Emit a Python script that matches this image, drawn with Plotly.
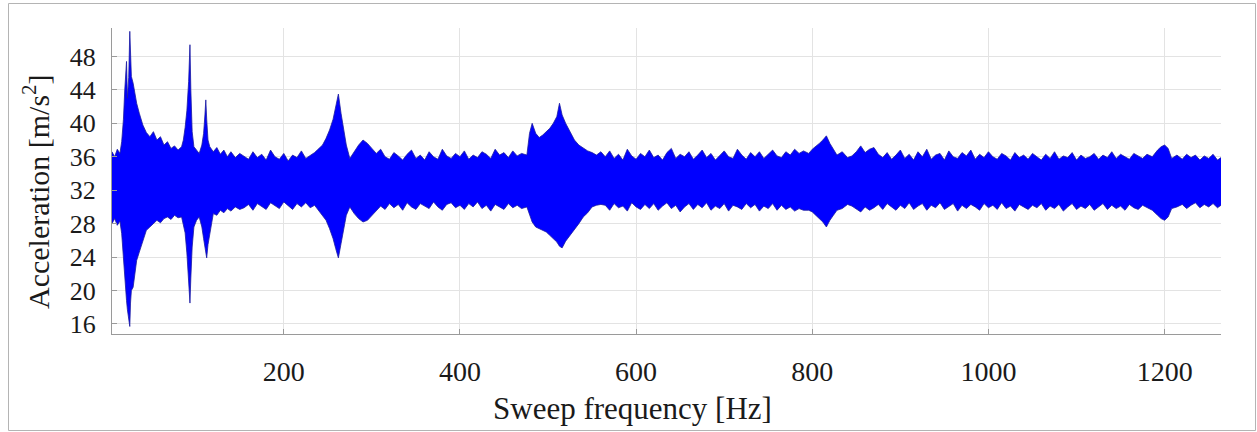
import plotly.graph_objects as go

# ---- envelope of the acceleration signal ----
# segment A: 5-150 Hz (start-up burst and the two early resonances)
freq_a = [5, 8, 11, 14, 16, 18, 19.5, 21, 21.5, 22.5, 24, 25.2, 26, 27, 29, 31, 33, 36, 40, 44,
          48, 52, 56, 60, 64, 68, 72, 76, 80, 84, 86, 88, 90, 92, 93.5, 94.5, 96, 98, 101, 104,
          107, 109, 110.5, 111.5, 112.5, 114, 116, 120, 124, 128, 132, 136, 140, 145, 150]
upper_a = [36.6, 36.0, 36.9, 36.4, 37.8, 40.5, 44.0, 46.0, 47.4, 43.0, 45.5, 51.0, 47.0, 45.6, 44.8,
           43.6, 42.4, 41.2, 39.8, 38.9, 38.4, 39.0, 38.0, 38.4, 37.4, 37.8, 37.0, 37.3, 36.8, 37.2,
           38.0, 39.5, 41.5, 45.0, 49.4, 44.0, 39.0, 37.2, 36.8, 36.4, 37.4, 38.8, 41.0, 42.8, 40.5,
           38.0, 37.2, 36.6, 37.1, 36.3, 36.8, 36.0, 36.6, 35.9, 36.4]
lower_a = [28.0, 28.6, 27.8, 28.3, 26.8, 23.5, 20.9, 19.5, 18.8, 17.7, 16.8, 15.7, 18.5, 20.0, 20.4,
           22.0, 23.6, 24.6, 25.8, 27.2, 27.6, 28.0, 28.4, 28.1, 28.6, 28.8, 28.5, 29.0, 28.7, 28.8,
           27.8, 26.9, 24.5, 21.0, 18.5, 21.5, 25.2, 27.6, 28.4, 28.8, 27.6, 26.2, 25.2, 24.2, 23.9,
           25.5, 26.9, 29.2, 29.0, 29.6, 29.3, 29.8, 29.5, 30.0, 29.7]

# segment B: 155-470 Hz (resonance near 262 Hz, bump near 290 Hz)
freq_b = [155, 160, 165, 170, 175, 180, 185, 190, 195, 200, 205, 210, 215, 220, 225, 230, 235,
          238, 244, 248, 252, 256, 259, 262, 265, 268, 271, 275,
          280, 285, 290, 295, 300, 305, 310, 315, 320, 325, 330, 335, 340, 345, 350, 355, 360,
          365, 370, 375, 380, 385, 390, 395, 400, 405, 410, 415, 420, 425, 430, 435, 440, 445,
          450, 455, 460, 465, 470]
upper_b = [36.1, 35.7, 36.6, 35.9, 36.3, 35.6, 36.8, 36.0, 35.7, 36.4, 35.5, 36.2, 35.9, 36.7, 35.8,
           36.1, 36.5,
           36.8, 37.4, 38.2, 39.2, 40.5, 42.0, 43.5, 41.2, 39.0, 37.4, 35.8,
           36.6, 37.4, 38.0, 37.6, 37.0, 36.4, 36.9, 36.0, 35.7, 36.5, 36.1, 35.6, 36.3, 36.8, 35.8,
           36.2, 35.6, 36.6, 36.0, 35.7, 36.9, 36.1, 35.8, 36.4, 36.0, 36.7, 35.7, 36.2, 35.9, 36.6,
           36.3, 35.8, 36.9, 36.2, 36.5, 35.9, 36.7, 36.1, 36.4]
lower_b = [29.9, 30.3, 29.6, 30.4, 30.0, 29.7, 30.5, 30.1, 29.8, 30.6, 30.2, 29.7, 30.4, 30.0, 30.5,
           29.9, 30.2,
           29.8, 29.0, 28.4, 27.4, 26.2, 25.0, 23.9, 25.6, 27.4, 29.0, 30.0,
           29.2, 28.6, 28.2, 28.4, 29.0, 29.6, 30.1, 29.7, 30.4, 29.9, 30.3, 29.6, 30.5, 30.0, 29.7,
           30.4, 30.1, 29.8, 30.6, 30.0, 29.6, 30.3, 30.5, 29.9, 30.2, 29.7, 30.4, 30.0, 30.6, 29.8,
           30.2, 29.5, 30.3, 30.0, 29.7, 30.4, 29.9, 30.2, 29.8]

# segment C: 476-560 Hz (broad resonance near 515 Hz)
freq_c = [476, 479, 482, 486, 490, 494, 498, 502, 506, 510, 513, 516, 520, 525, 530, 535, 540, 545,
          550, 555, 560]
upper_c = [36.2, 38.8, 40.0, 38.8, 38.3, 38.6, 39.0, 39.4, 40.0, 40.8, 42.4, 41.0, 40.0, 38.9, 38.0,
           37.4, 37.0, 36.7, 36.5, 36.2, 36.6]
lower_c = [30.0, 29.2, 28.2, 27.6, 27.4, 27.2, 27.0, 26.6, 26.2, 25.8, 25.3, 25.1, 25.9, 26.6, 27.2,
           28.0, 28.8, 29.3, 30.0, 30.2, 30.3]

# segment D: 565-790 Hz
freq_d = [565, 570, 575, 580, 585, 590, 595, 600, 605, 610, 615, 620, 625, 630, 635, 640, 645, 650,
          655, 660, 665, 670, 675, 680, 685, 690, 695, 700, 705, 710, 715, 720, 725, 730, 735, 740,
          745, 750, 755, 760, 765, 770, 775, 780, 785, 790]
upper_d = [36.0, 36.7, 35.8, 36.3, 35.6, 36.9, 36.1, 35.7, 36.4, 36.0,
           36.8, 35.9, 36.2, 35.6, 36.5, 37.0, 35.8, 36.3, 36.0, 36.6,
           35.7, 36.2, 36.8, 35.9, 36.4, 35.6, 36.1, 36.7, 36.0, 35.8,
           36.9, 36.2, 35.7, 36.5, 36.0, 36.6, 35.8, 36.3, 36.8, 36.1,
           35.9, 36.6, 36.2, 36.9, 36.4, 36.7]
lower_d = [30.2, 29.6, 30.4, 29.9, 30.1, 29.5, 30.5, 30.0, 29.7, 30.3,
           29.8, 30.4, 29.6, 30.1, 30.5, 29.8, 30.2, 29.4, 30.0, 30.4,
           29.7, 30.3, 29.9, 30.5, 29.6, 30.1, 29.8, 30.4, 29.5, 30.2,
           30.0, 29.7, 30.4, 29.9, 30.3, 29.5, 30.1, 29.8, 30.4, 29.6,
           30.2, 29.7, 30.0, 29.5, 29.8, 29.6]

# segment E: 796-840 Hz (bump near 816 Hz)
freq_e = [796, 800, 804, 808, 812, 816, 820, 824, 828, 834, 840]
upper_e = [36.4, 36.9, 37.2, 37.6, 38.0, 38.5, 37.6, 36.9, 36.2, 36.6, 35.9]
lower_e = [29.6, 29.4, 29.0, 28.6, 28.2, 27.6, 28.4, 29.0, 29.6, 29.8, 30.3]

# segment F: 845-1180 Hz
freq_f = [845, 850, 855, 860, 865, 870, 875, 880, 885, 890, 895, 900, 905, 910, 915, 920, 925, 930,
          935, 940, 945, 950, 955, 960, 965, 970, 975, 980, 985, 990, 995, 1000, 1005, 1010, 1015,
          1020, 1025, 1030, 1035, 1040, 1045, 1050, 1055, 1060, 1065, 1070, 1075, 1080, 1085, 1090,
          1095, 1100, 1105, 1110, 1115, 1120, 1125, 1130, 1135, 1140, 1145, 1150, 1155, 1160, 1165,
          1170, 1175, 1180]
upper_f = [36.1, 36.6, 37.3, 36.5, 36.9, 37.1, 36.3, 35.9, 36.5, 35.7,
           36.2, 36.8, 35.8, 36.3, 35.6, 36.6, 36.0, 36.9, 35.7, 36.2,
           36.4, 35.6, 36.7, 36.0, 35.8, 36.5, 36.1, 36.8, 35.7, 36.3,
           35.9, 36.6, 36.0, 35.7, 36.4, 36.1, 35.6, 36.5, 35.9, 36.2,
           35.7, 36.4, 36.0, 35.6, 36.3, 35.8, 36.6, 35.7, 36.1, 35.9,
           36.5, 35.6, 36.2, 35.8, 36.0, 36.4, 35.7, 36.2, 35.9, 36.6,
           35.8, 36.3, 36.0, 35.7, 36.4, 36.1, 35.8, 36.3]
lower_f = [30.1, 29.8, 29.4, 30.0, 29.6, 29.9, 30.3, 29.7, 30.4, 30.0,
           29.6, 30.2, 29.8, 30.5, 29.7, 30.1, 30.4, 29.6, 30.2, 29.9,
           30.5, 29.7, 30.0, 30.4, 29.5, 30.2, 29.8, 30.3, 30.0, 29.6,
           30.4, 29.9, 30.2, 29.7, 30.5, 29.8, 30.1, 29.5, 30.3, 30.0,
           29.7, 30.2, 29.9, 30.4, 29.6, 30.1, 29.8, 30.3, 29.5, 30.0,
           30.4, 29.7, 30.1, 29.8, 30.3, 29.6, 30.0, 30.4, 29.7, 30.2,
           29.8, 30.1, 29.6, 30.3, 29.9, 29.7, 30.2, 29.9]

# segment G: 1186-1264 Hz (bump near 1200 Hz and the end of the sweep)
freq_g = [1186, 1192, 1196, 1200, 1204, 1208, 1214,
          1220, 1225, 1230, 1235, 1240, 1245, 1250, 1255, 1260, 1264]
upper_g = [36.0, 36.8, 37.2, 37.4, 37.0, 35.8, 36.2,
           35.7, 36.3, 35.9, 36.2, 35.6, 36.1, 35.8, 36.3, 35.6, 35.9]
lower_g = [29.6, 29.0, 28.6, 28.4, 28.8, 29.8, 30.0,
           30.3, 29.8, 30.2, 30.5, 29.9, 30.3, 30.0, 30.4, 29.9, 30.2]

x_ticks = [200, 400, 600, 800, 1000, 1200]
y_ticks = [16, 20, 24, 28, 32, 36, 40, 44, 48]

freq_hz = freq_a + freq_b + freq_c + freq_d + freq_e + freq_f + freq_g
upper_env = upper_a + upper_b + upper_c + upper_d + upper_e + upper_f + upper_g
lower_env = lower_a + lower_b + lower_c + lower_d + lower_e + lower_f + lower_g

SERIF = "Liberation Serif, Times New Roman, serif"
W, H = 1257, 432
ML, MR, MT, MB = 112, 36, 28, 98
PW, PH = W - ML - MR, H - MT - MB


def px(xp):
    return (xp - ML) / PW


def py(yp):
    return (H - MB - yp) / PH


fig = go.Figure()
fig.add_trace(go.Scatter(x=freq_hz, y=lower_env, mode="lines",
                         line=dict(color="#1c1ca0", width=0.8),
                         hoverinfo="skip", showlegend=False))
fig.add_trace(go.Scatter(x=freq_hz, y=upper_env, mode="lines", fill="tonexty",
                         fillcolor="#0000ff", line=dict(color="#1c1ca0", width=0.8),
                         name="Acceleration", showlegend=False))

fig.update_layout(
    width=W, height=H, autosize=False,
    margin=dict(l=ML, r=MR, t=MT, b=MB, pad=0),
    paper_bgcolor="white", plot_bgcolor="white",
    font=dict(family=SERIF, color="#1a1a1a"),
    showlegend=False,
)
fig.update_xaxes(
    range=[5, 1264], tickvals=x_ticks, ticktext=[str(v) for v in x_ticks],
    showgrid=True, gridcolor="#e3e3e3", gridwidth=1,
    showline=True, linecolor="#9a9a9a", linewidth=1, mirror=False,
    ticks="inside", ticklen=5, tickcolor="#9a9a9a",
    tickfont=dict(family=SERIF, size=28, color="#1a1a1a"),
    ticklabelstandoff=12, zeroline=False,
)
fig.update_yaxes(
    range=[14.8, 51.4], tickvals=y_ticks, ticktext=[str(v) for v in y_ticks],
    showgrid=True, gridcolor="#e3e3e3", gridwidth=1,
    showline=True, linecolor="#9a9a9a", linewidth=1, mirror=False,
    ticks="inside", ticklen=5, tickcolor="#9a9a9a",
    tickfont=dict(family=SERIF, size=26, color="#1a1a1a"),
    ticklabelstandoff=10, zeroline=False,
)

fig.add_annotation(text="Sweep frequency [Hz]", xref="paper", yref="paper",
                   x=px(632), y=py(408), xanchor="center", yanchor="middle",
                   showarrow=False, font=dict(family=SERIF, size=31, color="#1a1a1a"))
fig.add_annotation(text="Acceleration [m/s<sup>2</sup>]", xref="paper", yref="paper",
                   x=px(36), y=py(192), xanchor="center", yanchor="middle", textangle=-90,
                   showarrow=False, font=dict(family=SERIF, size=30, color="#1a1a1a"))

# thin frame around the whole picture
fig.add_shape(type="rect", xref="paper", yref="paper",
              x0=px(8.5), x1=px(1255.5), y0=py(430.5), y1=py(3.5),
              line=dict(color="#b4b4b4", width=1), fillcolor="rgba(0,0,0,0)", layer="below")

fig.write_html("out.html")
